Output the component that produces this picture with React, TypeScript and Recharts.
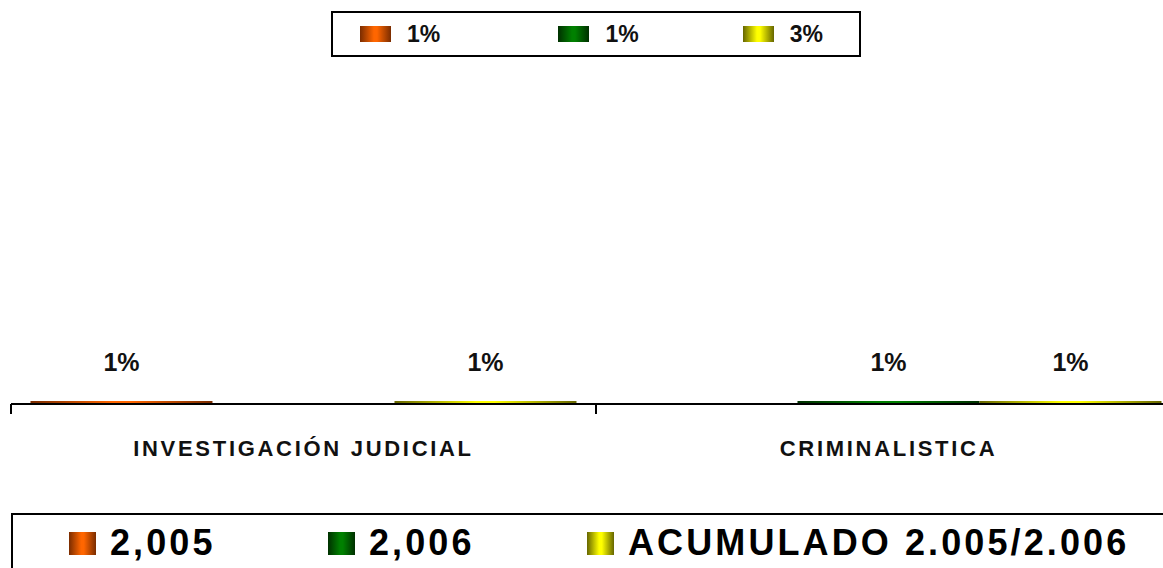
import React from 'react';
import { BarChart, Bar, XAxis, YAxis, Legend, LabelList } from 'recharts';

const categories = ['INVESTIGACIÓN JUDICIAL', 'CRIMINALISTICA'];
const values2005 = [0.01, 0];
const values2006 = [0, 0.01];
const valuesAcumulado = [0.01, 0.01];

const seriesNames = ['2,005', '2,006', 'ACUMULADO 2.005/2.006'];
const topLegendLabels = ['1%', '1%', '3%'];

const chartData = categories.map((name, i) => ({
	name,
	y2005: values2005[i],
	y2006: values2006[i],
	acum: valuesAcumulado[i],
}));

const CHART_W = 1192;
const MARGIN_X = 11;
const BAND = (CHART_W - 2 * MARGIN_X) / categories.length;

const colors = [
	{ id: 'gOrange', dark: '#7a2c00', bright: '#ff6600' },
	{ id: 'gGreen', dark: '#003000', bright: '#008000' },
	{ id: 'gYellow', dark: '#666600', bright: '#ffff00' },
];

const swatch = (c: { dark: string; bright: string }) =>
	`linear-gradient(to right, ${c.dark}, ${c.bright} 45%, ${c.bright} 55%, ${c.dark})`;

const pctLabel = (v: any) => (v ? `${Math.round(Number(v) * 100)}%` : '');

// etiqueta de categoría + marca en el borde de la banda
const CategoryTick = ({ x, y, payload }: any) => (
	<g>
		<line x1={x - BAND / 2} y1={y} x2={x - BAND / 2} y2={y + 10} stroke="#000" strokeWidth={2} />
		<text
			x={x}
			y={y + 52}
			textAnchor="middle"
			fontFamily="Arial, 'Liberation Sans', sans-serif"
			fontWeight="bold"
			fontSize={22}
			letterSpacing={2.7}
			fill="#111"
		>
			{payload.value}
		</text>
	</g>
);

const BottomLegend = () => (
	<div
		style={{
			boxSizing: 'border-box',
			width: 1200,
			height: 70,
			border: '2px solid #000',
			borderRight: 'none',
			borderBottom: 'none',
			background: '#fff',
			display: 'flex',
			alignItems: 'center',
			paddingLeft: 56,
			paddingBottom: 12,
			fontFamily: "Arial, 'Liberation Sans', sans-serif",
			fontWeight: 'bold',
			fontSize: 36,
			letterSpacing: 3.1,
			color: '#000',
		}}
	>
		{seriesNames.map((name, i) => (
			<div key={name} style={{ display: 'flex', alignItems: 'center', width: i < 2 ? 259 : 'auto' }}>
				<span style={{ width: 27, height: 23, background: swatch(colors[i]), marginRight: 14 }} />
				<span style={{ lineHeight: 1 }}>{name}</span>
			</div>
		))}
	</div>
);

export default function App() {
	return (
		<div style={{ position: 'absolute', left: 0, top: 0, width: 1163, height: 568, overflow: 'hidden', background: '#fff' }}>
			{/* leyenda superior con totales */}
			<div
				style={{
					position: 'absolute',
					left: 331,
					top: 11,
					width: 530,
					height: 46,
					boxSizing: 'border-box',
					border: '2px solid #000',
					display: 'flex',
					alignItems: 'center',
					justifyContent: 'space-between',
					padding: '0 36px 0 27px',
					fontFamily: "Arial, 'Liberation Sans', sans-serif",
					fontWeight: 'bold',
					fontSize: 23,
					color: '#111',
					zIndex: 2,
				}}
			>
				{topLegendLabels.map((lbl, i) => (
					<div key={i} style={{ display: 'flex', alignItems: 'center', marginLeft: i === 1 ? 14 : 0 }}>
						<span style={{ width: 31, height: 16, background: swatch(colors[i]), marginRight: 16 }} />
						<span style={{ lineHeight: 1 }}>{lbl}</span>
					</div>
				))}
			</div>
			<BarChart
				width={CHART_W}
				height={568}
				data={chartData}
				margin={{ top: 104, right: MARGIN_X, bottom: 104, left: MARGIN_X }}
				barCategoryGap="3.33%"
				barGap={0}
			>
				<defs>
					{colors.map((c) => (
						<linearGradient key={c.id} id={c.id} x1="0" y1="0" x2="1" y2="0">
							<stop offset="0%" stopColor={c.dark} />
							<stop offset="45%" stopColor={c.bright} />
							<stop offset="55%" stopColor={c.bright} />
							<stop offset="100%" stopColor={c.dark} />
						</linearGradient>
					))}
				</defs>
				<XAxis
					dataKey="name"
					height={60}
					tickSize={0}
					tickMargin={0}
					tickLine={false}
					axisLine={{ stroke: '#000', strokeWidth: 2 }}
					tick={<CategoryTick />}
					interval={0}
				/>
				<YAxis hide domain={[0, 1]} />
				<Legend
					layout="horizontal"
					verticalAlign="middle"
					align="center"
					content={<BottomLegend />}
					wrapperStyle={{ position: 'absolute', top: 513, left: 11, width: 1200, height: 70 }}
				/>
				{(['y2005', 'y2006', 'acum'] as const).map((key, i) => (
					<Bar key={key} dataKey={key} name={seriesNames[i]} fill={`url(#${colors[i].id})`} isAnimationActive={false}>
						<LabelList
							dataKey={key}
							position="top"
							offset={30}
							formatter={pctLabel}
							fontFamily="Arial, 'Liberation Sans', sans-serif"
							fontWeight="bold"
							fontSize={25}
							fill="#111"
						/>
					</Bar>
				))}
			</BarChart>
		</div>
	);
}
